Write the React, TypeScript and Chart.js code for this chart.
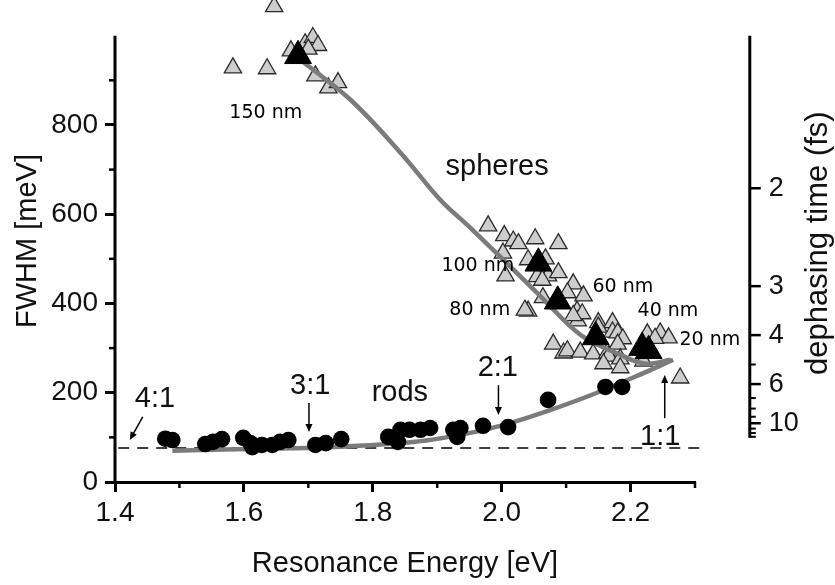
import React, { useEffect, useRef } from 'react';
import { Chart, registerables } from 'chart.js';

Chart.register(...registerables);

// ---------- data (Resonance energy [eV], FWHM [meV]) ----------
const sphereSingles: [number, number][] = [
  [1.647, 1065], [1.583, 928], [1.636, 926], [1.673, 966], [1.695, 982], [1.707, 996],
  [1.715, 978], [1.700, 970], [1.711, 910], [1.731, 883], [1.746, 895],
  [1.979, 574], [2.004, 552], [2.018, 540], [2.026, 534], [2.052, 545], [2.088, 534],
  [2.002, 513], [2.041, 498], [2.068, 500], [2.055, 460], [2.072, 462], [2.088, 469],
  [2.006, 462], [2.063, 452], [2.064, 413], [2.111, 444], [2.127, 417], [2.102, 424],
  [2.041, 383], [2.036, 385], [2.117, 383], [2.118, 361], [2.125, 377], [2.111, 373],
  [2.150, 357], [2.172, 357], [2.150, 347], [2.172, 336], [2.180, 334], [2.188, 321],
  [2.180, 309], [2.080, 309], [2.096, 289], [2.102, 294], [2.122, 291], [2.142, 287],
  [2.164, 289], [2.166, 282], [2.184, 276], [2.184, 256], [2.158, 265], [2.226, 332],
  [2.246, 334], [2.259, 323], [2.238, 322], [2.220, 271], [2.277, 233],
];
const sphereMeans: [number, number][] = [
  [1.684, 955], [2.057, 490], [2.087, 405], [2.146, 325], [2.218, 301], [2.228, 294],
];
const rodSingles: [number, number][] = [
  [1.478, 97], [1.489, 94], [1.540, 85], [1.552, 90], [1.566, 96], [1.599, 99],
  [1.610, 87], [1.613, 78], [1.628, 83], [1.644, 83], [1.656, 90], [1.669, 94],
  [1.711, 83], [1.727, 87], [1.751, 96], [1.824, 101], [1.843, 117], [1.839, 90],
  [1.857, 117], [1.874, 117], [1.889, 121], [1.925, 117], [1.936, 121], [1.931, 101],
  [1.971, 126], [2.010, 123], [2.072, 184], [2.161, 213], [2.187, 213],
];
const sphereTheory: [number, number][] = [
  [1.684, 950], [1.765, 857], [1.843, 738], [1.905, 632], [1.951, 570], [2.006, 493],
  [2.055, 424], [2.122, 330], [2.184, 285], [2.223, 265], [2.262, 274],
];
const rodTheory: [number, number][] = [
  [1.489, 70], [1.610, 74], [1.734, 78], [1.866, 90], [1.951, 110], [2.013, 132],
  [2.075, 161], [2.148, 200], [2.220, 244], [2.266, 274],
];
const baseline: [number, number][] = [[1.405, 76], [2.31, 76]];

const xMajorTicks = [1.4, 1.6, 1.8, 2.0, 2.2];
const xMinorTicks = [1.5, 1.7, 1.9, 2.1, 2.3];
const yMajorTicks = [0, 200, 400, 600, 800];
const yMinorTicks = [100, 300, 500, 700, 900];
const yAxisTop = 1000;
const dephasingMajor = [2, 3, 4, 6, 10];
const dephasingMinor = [5, 7, 8, 9, 11, 12, 13];
const HBAR2 = 1316.4; // 2*hbar in meV*fs : T2 = 2hbar / FWHM

// text annotations in data coordinates
const nmLabels = ['150 nm', '100 nm', '80 nm', '60 nm', '40 nm', '20 nm'];
const nmLabelE = [1.634, 1.963, 1.966, 2.188, 2.258, 2.323];
const nmLabelF = [827, 484, 386, 437, 383, 318];
const bigLabels = ['spheres', 'rods', '4:1', '3:1', '2:1', '1:1'];
const bigLabelE = [1.993, 1.842, 1.462, 1.703, 1.994, 2.246];
const bigLabelF = [706, 200, 186, 215, 256, 101];
// arrows: [fromE, fromF, toE, toF]
const arrows: [number, number, number, number][] = [
  [1.443, 146, 1.423, 94],
  [1.701, 177, 1.701, 112],
  [1.995, 217, 1.995, 150],
  [2.253, 143, 2.253, 240],
];

const SANS = "'Liberation Sans', Arial, sans-serif";

const overlay = {
  id: 'overlay',
  afterDraw(chart: any) {
    const { ctx } = chart;
    const x = chart.scales.x;
    const y = chart.scales.y;
    const left = chart.chartArea.left;
    const bottom = chart.chartArea.bottom;
    ctx.save();
    ctx.strokeStyle = '#000';
    ctx.fillStyle = '#111';
    // left axis line (stops at 1000 meV)
    ctx.lineWidth = 3;
    ctx.beginPath();
    ctx.moveTo(left, y.getPixelForValue(yAxisTop));
    ctx.lineTo(left, bottom + 1.5);
    ctx.stroke();
    // minor ticks
    ctx.lineWidth = 2.5;
    yMinorTicks.forEach((v) => {
      const py = y.getPixelForValue(v);
      ctx.beginPath();
      ctx.moveTo(left, py);
      ctx.lineTo(left - 6, py);
      ctx.stroke();
    });
    xMinorTicks.forEach((v) => {
      const px = x.getPixelForValue(v);
      ctx.beginPath();
      ctx.moveTo(px, bottom);
      ctx.lineTo(px, bottom + 6);
      ctx.stroke();
    });
    // right axis: dephasing time
    const ax = x.getPixelForValue(2.385);
    const yTop = y.getPixelForValue(yAxisTop);
    const yBot = y.getPixelForValue(HBAR2 / 13.3);
    ctx.lineWidth = 3;
    ctx.beginPath();
    ctx.moveTo(ax, yTop);
    ctx.lineTo(ax, yBot);
    ctx.stroke();
    ctx.font = `27px ${SANS}`;
    ctx.textAlign = 'left';
    ctx.textBaseline = 'middle';
    dephasingMajor.forEach((t) => {
      const py = y.getPixelForValue(HBAR2 / t);
      ctx.lineWidth = 2.5;
      ctx.beginPath();
      ctx.moveTo(ax, py);
      ctx.lineTo(ax + 11, py);
      ctx.stroke();
      ctx.fillText(String(t), ax + 19, py);
    });
    dephasingMinor.forEach((t) => {
      const py = y.getPixelForValue(HBAR2 / t);
      ctx.lineWidth = 2;
      ctx.beginPath();
      ctx.moveTo(ax, py);
      ctx.lineTo(ax + 6, py);
      ctx.stroke();
    });
    ctx.save();
    ctx.translate(ax + 69, y.getPixelForValue(535));
    ctx.rotate(-Math.PI / 2);
    ctx.textAlign = 'center';
    ctx.font = `31px ${SANS}`;
    ctx.fillText('dephasing time (fs)', 0, 0);
    ctx.restore();
    // labels
    ctx.textAlign = 'center';
    ctx.textBaseline = 'middle';
    ctx.font = "19px 'DejaVu Sans', sans-serif";
    ctx.fillStyle = '#000';
    nmLabels.forEach((t, i) => {
      ctx.fillText(t, x.getPixelForValue(nmLabelE[i]), y.getPixelForValue(nmLabelF[i]));
    });
    ctx.font = `29px ${SANS}`;
    ctx.fillStyle = '#111';
    bigLabels.forEach((t, i) => {
      ctx.fillText(t, x.getPixelForValue(bigLabelE[i]), y.getPixelForValue(bigLabelF[i]));
    });
    // arrows
    ctx.lineWidth = 1.5;
    ctx.fillStyle = '#000';
    arrows.forEach(([e0, f0, e1, f1]) => {
      const x0 = x.getPixelForValue(e0), y0 = y.getPixelForValue(f0);
      const x1 = x.getPixelForValue(e1), y1 = y.getPixelForValue(f1);
      const ang = Math.atan2(y1 - y0, x1 - x0);
      ctx.beginPath();
      ctx.moveTo(x0, y0);
      ctx.lineTo(x1 - Math.cos(ang) * 5, y1 - Math.sin(ang) * 5);
      ctx.stroke();
      ctx.beginPath();
      ctx.moveTo(x1, y1);
      ctx.lineTo(x1 - Math.cos(ang) * 8 + Math.sin(ang) * 3.5, y1 - Math.sin(ang) * 8 - Math.cos(ang) * 3.5);
      ctx.lineTo(x1 - Math.cos(ang) * 8 - Math.sin(ang) * 3.5, y1 - Math.sin(ang) * 8 + Math.cos(ang) * 3.5);
      ctx.closePath();
      ctx.fill();
    });
    ctx.restore();
  },
};

const toXY = (arr: [number, number][]) => arr.map(([e, f]) => ({ x: e, y: f }));

export default function App() {
  const ref = useRef<HTMLCanvasElement | null>(null);
  useEffect(() => {
    if (!ref.current) return;
    const chart = new Chart(ref.current, {
      type: 'scatter',
      data: {
        datasets: [
          {
            label: 'rods',
            data: toXY(rodSingles),
            pointStyle: 'circle',
            pointRadius: 8.3,
            backgroundColor: '#000',
            borderColor: '#000',
            borderWidth: 0,
            order: 0,
          },
          {
            label: 'sphere means',
            data: toXY(sphereMeans),
            pointStyle: 'triangle',
            pointRadius: 15.5,
            backgroundColor: '#000',
            borderColor: '#000',
            borderWidth: 1,
            order: 1,
          },
          {
            label: 'sphere theory',
            data: toXY(sphereTheory),
            showLine: true,
            tension: 0.35,
            borderColor: '#7b7b7b',
            borderWidth: 4.5,
            pointRadius: 0,
            order: 2,
          },
          {
            label: 'rod theory',
            data: toXY(rodTheory),
            showLine: true,
            tension: 0.35,
            borderColor: '#7b7b7b',
            borderWidth: 4.5,
            pointRadius: 0,
            order: 2,
          },
          {
            label: 'spheres',
            data: toXY(sphereSingles),
            pointStyle: 'triangle',
            pointRadius: 10,
            backgroundColor: '#cdcdcd',
            borderColor: '#2a2a2a',
            borderWidth: 1.3,
            order: 3,
            clip: false,
          },
          {
            label: 'homogeneous limit',
            data: toXY(baseline),
            showLine: true,
            borderColor: '#000',
            borderWidth: 1.5,
            borderDash: [11, 8],
            pointRadius: 0,
            order: 4,
            clip: false,
          },
        ],
      },
      options: {
        animation: false,
        responsive: false,
        events: [],
        layout: { autoPadding: false, padding: { left: 0, right: 140, top: 0, bottom: 0 } },
        plugins: { legend: { display: false }, tooltip: { enabled: false } },
        scales: {
          x: {
            type: 'linear',
            min: 1.4,
            max: 2.3,
            afterFit: (s: any) => { s.height = 103; s.paddingLeft = 0; s.paddingRight = 0; },
            afterBuildTicks: (s: any) => { s.ticks = xMajorTicks.map((v) => ({ value: v })); },
            ticks: {
              callback: (v: any) => Number(v).toFixed(1),
              font: { family: SANS, size: 28 },
              color: '#111',
              padding: 4,
              maxRotation: 0,
              autoSkip: false,
            },
            grid: { drawOnChartArea: false, drawTicks: true, tickLength: 10, tickWidth: 3, color: '#000' },
            border: { display: true, width: 3, color: '#000' },
            title: {
              display: true,
              text: 'Resonance Energy [eV]',
              font: { family: SANS, size: 29 },
              color: '#111',
              padding: { top: 0, bottom: 4 },
            },
          },
          y: {
            type: 'linear',
            min: 0,
            max: 1080,
            afterFit: (s: any) => {
              s.width = 115;
              s.paddingTop = 0;
              s.paddingBottom = 0;
            },
            afterBuildTicks: (s: any) => { s.ticks = yMajorTicks.map((v) => ({ value: v })); },
            ticks: {
              callback: (v: any) => String(v),
              font: { family: SANS, size: 28 },
              color: '#111',
              padding: 7,
            },
            grid: { drawOnChartArea: false, drawTicks: true, tickLength: 10, tickWidth: 3, color: '#000' },
            border: { display: false },
            title: {
              display: true,
              text: 'FWHM [meV]',
              font: { family: SANS, size: 29 },
              color: '#111',
              padding: { top: 11, bottom: 0 },
            },
          },
        },
      },
      plugins: [overlay],
    });
    return () => chart.destroy();
  }, []);
  return (
    <div style={{ position: 'absolute', left: 0, top: 0, width: 835, height: 585, background: '#fff' }}>
      <canvas ref={ref} width={835} height={585} />
    </div>
  );
}
